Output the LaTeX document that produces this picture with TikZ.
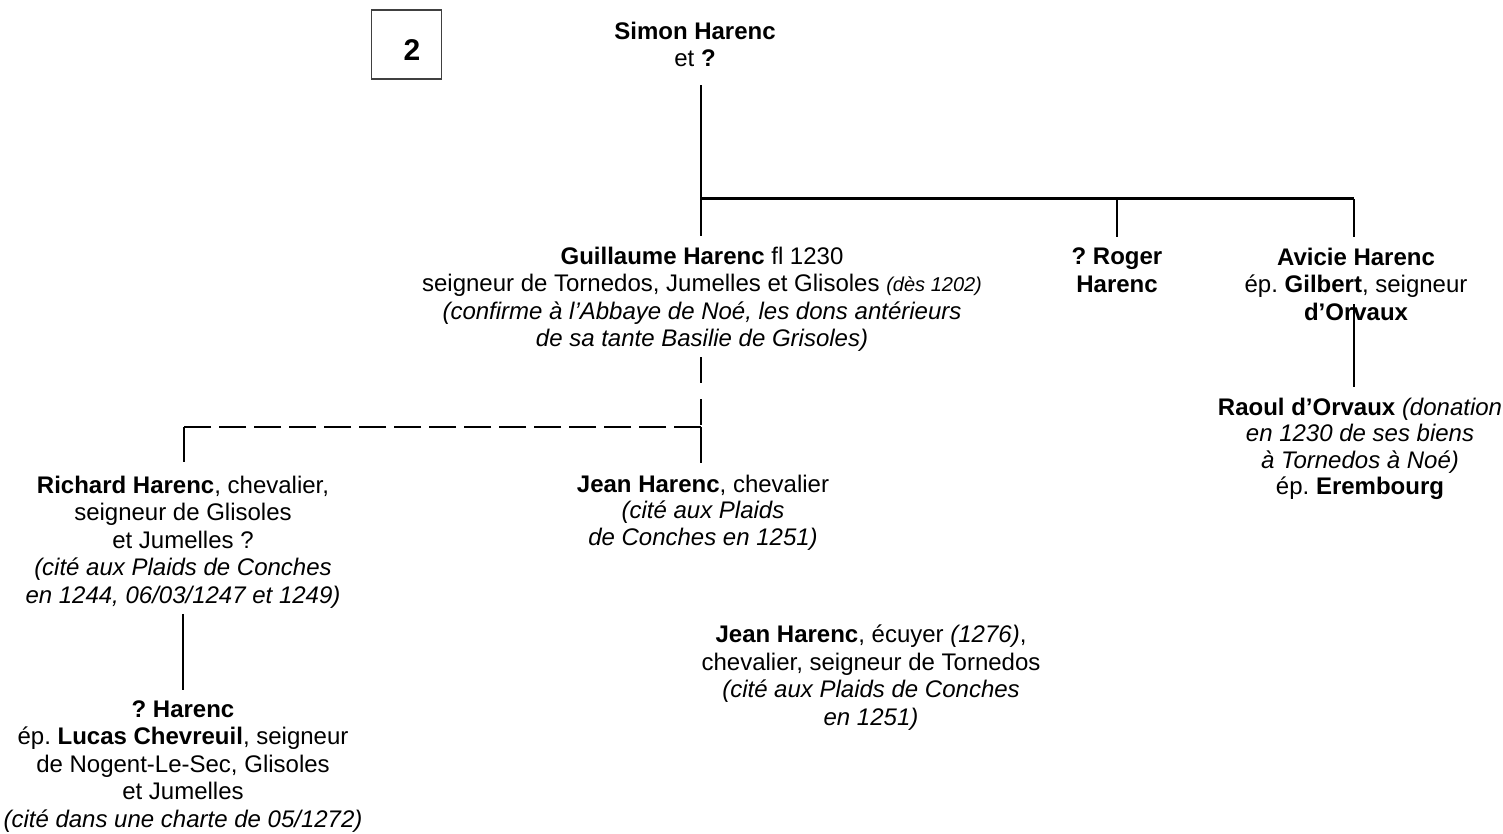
\documentclass[tikz,border=0pt]{standalone}
\usepackage{fontspec}
\setmainfont{Liberation Sans}
\frenchspacing
\begin{document}
\begin{tikzpicture}[x=0.5pt, y=-0.5pt]
\tikzstyle{every node}=[align=center, inner sep=0pt, anchor=north, font=\fontsize{12}{13.75}\selectfont]
\tikzstyle{tight}=[font=\fontsize{12}{13.25}\selectfont]
\tikzstyle{link}=[line width=1.1pt]
\tikzstyle{bar}=[line width=1.5pt]
\tikzstyle{hint}=[line width=1.4pt, dash pattern=on 13.5pt off 4pt]
\useasboundingbox (0,0) rectangle (1503,834);
\node [draw=black!75, line width=0.6pt, anchor=center, minimum width=35pt, minimum height=34.5pt, text height=16.3pt, text depth=0pt, font=\fontsize{15}{15}\selectfont\bfseries] (Num) at (406.5,44.5) {\hspace*{5.5pt}2};
\node (Simon) at (695,21.6) {\textbf{Simon Harenc}\\et \textbf{?}};
\node (Guill) at (702,246.6) {\textbf{Guillaume Harenc} fl 1230\\seigneur de Tornedos, Jumelles et Glisoles {\fontsize{10}{13}\selectfont\itshape (dès 1202)}\\\textit{(confirme à l’Abbaye de Noé, les dons antérieurs}\\\textit{de sa tante Basilie de Grisoles)}};
\node (Roger) at (1117,247.6) {\textbf{? Roger}\\\textbf{Harenc}};
\node (Avicie) at (1356,247.6) {\textbf{Avicie Harenc}\\ép. \textbf{Gilbert}, seigneur\\\textbf{d’Orvaux}};
\node [tight] (Raoul) at (1360,397.6) {\textbf{Raoul d’Orvaux} \textit{(donation}\\\textit{en 1230 de ses biens}\\\textit{à Tornedos à Noé)}\\ép. \textbf{Erembourg}};
\node (Richard) at (183,475.6) {\textbf{Richard Harenc}, chevalier,\\seigneur de Glisoles\\et Jumelles ?\\\textit{(cité aux Plaids de Conches}\\\textit{en 1244, 06/03/1247 et 1249)}};
\node [tight] (JeanC) at (703,474.6) {\textbf{Jean Harenc}, chevalier\\\textit{(cité aux Plaids}\\\textit{de Conches en 1251)}};
\node (JeanE) at (871,624.6) {\textbf{Jean Harenc}, écuyer \textit{(1276)},\\chevalier, seigneur de Tornedos\\\textit{(cité aux Plaids de Conches}\\\textit{en 1251)}};
\node (Child) at (183,700) {\textbf{? Harenc}\\ép. \textbf{Lucas Chevreuil}, seigneur\\de Nogent-Le-Sec, Glisoles\\et Jumelles\\\textit{(cité dans une charte de 05/1272)}};
\coordinate (fork) at (701,199);
\coordinate (forkR) at (1354,199);
\coordinate (dropR) at (1117,199);
\coordinate (join) at (701,427);
\coordinate (joinL) at (184,427);
\draw [link, shorten >=8.75pt] (fork) to (fork |- Simon.south);
\draw [bar] (fork) to (forkR);
\draw [link, shorten >=5.5pt] (fork) to (fork |- Guill.north);
\draw [link, shorten >=5.5pt] (dropR) to (dropR |- Roger.north);
\draw [link, shorten >=5.5pt] (forkR) to (forkR |- Avicie.north);
\draw [link, dash pattern=on 13pt off 8pt, shorten <=2.5pt] (join |- Guill.south) to (join);
\draw [link, shorten >=5.75pt] (join) to (join |- JeanC.north);
\draw [hint] (join) to (joinL);
\draw [link, shorten >=6.75pt] (joinL) to (joinL |- Richard.north);
\draw [link, shorten <=2.5pt, shorten >=5pt] (Richard.south) to (Richard.south |- Child.north);
\draw [link, shorten <=-8.5pt, shorten >=5.25pt] (forkR |- Avicie.south) to (forkR |- Raoul.north);
\end{tikzpicture}
\end{document}
